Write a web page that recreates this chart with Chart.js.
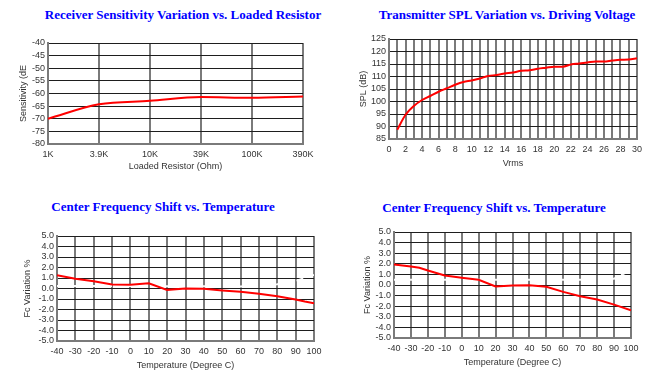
<!DOCTYPE html>
<html>
<head>
<meta charset="utf-8">
<script src="https://cdn.jsdelivr.net/npm/chart.js@4/dist/chart.umd.min.js"></script>
<style>
  body { margin: 0; background: #fff; width: 656px; height: 378px; position: relative; overflow: hidden; }
  .box { position: absolute; }
  .ttl { position: absolute; font: bold 13px "Liberation Serif", "Times New Roman", serif; color: #0000ff; white-space: nowrap; transform: translate(-50%, -50%); }
</style>
</head>
<body>
<div class="ttl" style="left:183px;top:15px">Receiver Sensitivity Variation vs. Loaded Resistor</div>
<div class="ttl" style="left:507px;top:15px">Transmitter SPL Variation vs. Driving Voltage</div>
<div class="ttl" style="left:163px;top:207px">Center Frequency Shift vs. Temperature</div>
<div class="ttl" style="left:494px;top:208px">Center Frequency Shift vs. Temperature</div>

<div class="box" style="left:0;top:30px;width:328px;height:150px"><canvas id="c1"></canvas></div>
<div class="box" style="left:330px;top:25px;width:326px;height:155px"><canvas id="c2"></canvas></div>
<div class="box" style="left:0;top:220px;width:328px;height:158px"><canvas id="c3"></canvas></div>
<div class="box" style="left:330px;top:220px;width:326px;height:158px"><canvas id="c4"></canvas></div>

<script>
// receiver sensitivity (dB) vs loaded resistor
const resistorLabels = ["1K", "3.9K", "10K", "39K", "100K", "390K"]
const sensitivity = [-70, -64.3, -62.9, -61.4, -61.7, -61.2]

// transmitter SPL (dB) vs Vrms
const vrms = [1, 2, 3, 4, 5, 6, 7, 8, 9, 10, 11, 12, 13, 14, 15, 16, 17, 18, 19, 20, 21, 22, 23, 24, 25, 26, 27, 28, 29, 30]
const spl = [88.7, 94.7, 98.2, 100.6, 102.2, 103.9, 105.3, 106.7, 107.8, 108.4, 109.2, 110.2, 110.6, 111.2, 111.6, 112.3, 112.5, 113.1, 113.5, 113.9, 113.9, 114.8, 115.2, 115.6, 116, 116, 116.4, 116.7, 116.8, 117.3]

// center frequency shift (%) vs temperature, left chart
const tempA = [-40, -30, -20, -10, 0, 10, 20, 30, 40, 50, 60, 70, 80, 90, 95, 100]
const shiftA = [1.27, 0.92, 0.7, 0.38, 0.35, 0.5, -0.13, 0, -0.03, -0.19, -0.32, -0.5, -0.73, -1.05, -1.24, -1.4]
const ghostTempA = [-40, 60, 80, 90, 100]
const ghostA = [0.25, 0.2, 0.4, 0.7, 1.3]

// center frequency shift (%) vs temperature, right chart
const tempB = [-40, -30, -25, -20, -10, 0, 10, 20, 30, 40, 50, 60, 70, 80, 90, 100]
const shiftB = [1.94, 1.75, 1.62, 1.37, 0.9, 0.68, 0.49, -0.14, -0.05, -0.02, -0.17, -0.65, -1.06, -1.37, -1.85, -2.38]
const ghostTempB = [-40, 70, 90, 100]
const ghostB = [0.5, 0.5, 0.6, 1.4]

const tickFont = { family: "Liberation Sans", size: 9 }
const txt = "#333"

function pts(xs, ys) {
  return xs.map((x, i) => ({ x: x, y: ys[i] }))
}

function xGrid() {
  return { color: "#7a7a7a", lineWidth: 2, drawTicks: false }
}
function yGrid() {
  return { color: "#1e1e1e", lineWidth: 1, drawTicks: false }
}

function makeChart(id, cfg) {
  return new Chart(document.getElementById(id), {
    type: "line",
    data: { labels: cfg.labels, datasets: cfg.datasets },
    options: {
      responsive: true,
      maintainAspectRatio: false,
      animation: false,
      layout: { padding: cfg.padding },
      plugins: { legend: { display: false }, tooltip: { enabled: false } },
      elements: { point: { radius: 0 } },
      scales: {
        x: Object.assign({
          grid: xGrid(),
          border: { color: "#7a7a7a", width: 2 },
          title: { display: true, text: cfg.xTitle, font: tickFont, color: txt, padding: { top: 4, bottom: 4 } },
          afterFit: s => { s.height = cfg.xh },
        }, cfg.x),
        y: Object.assign({
          grid: yGrid(),
          border: { color: "#7a7a7a", width: 2 },
          title: { display: true, text: cfg.yTitle, font: tickFont, color: txt, padding: { top: 4, bottom: 4 } },
          afterFit: s => { s.width = cfg.yw },
        }, cfg.y),
      },
    },
  })
}

const redLine = { borderColor: "#ff0000", borderWidth: 2, fill: false }
const ghostLine = { borderColor: "rgba(255,255,255,0.95)", borderWidth: 2, borderDash: [7, 5], fill: false }

makeChart("c1", {
  labels: resistorLabels,
  datasets: [Object.assign({ data: sensitivity, cubicInterpolationMode: "monotone" }, redLine)],
  padding: { left: 14, top: 13, right: 25, bottom: 4 },
  yw: 34, xh: 32,
  xTitle: "Loaded Resistor (Ohm)",
  yTitle: "Sensitivity (dE",
  x: { type: "category", offset: false, ticks: { autoSkip: false, font: tickFont, color: txt, padding: 5, maxRotation: 0 } },
  y: { min: -80, max: -40, ticks: { stepSize: 5, autoSkip: false, font: tickFont, color: txt, padding: 3 } },
})

makeChart("c2", {
  datasets: [Object.assign({ data: pts(vrms, spl), cubicInterpolationMode: "monotone" }, redLine)],
  padding: { left: 24, top: 14, right: 19, bottom: 7 },
  yw: 35, xh: 34,
  xTitle: "Vrms",
  yTitle: "SPL (dB)",
  x: { type: "linear", min: 0, max: 30, ticks: { stepSize: 1, autoSkip: false, maxRotation: 0, font: tickFont, color: txt, padding: 5, callback: v => (v % 2 === 0 ? v : "") } },
  y: { min: 85, max: 125, ticks: { stepSize: 5, autoSkip: false, font: tickFont, color: txt, padding: 3 } },
})

const tempX = { type: "linear", min: -40, max: 100, ticks: { stepSize: 10, autoSkip: false, maxRotation: 0, font: tickFont, color: txt, padding: 5 } }
const shiftY = { min: -5, max: 5, ticks: { stepSize: 1, autoSkip: false, font: tickFont, color: txt, padding: 3, callback: v => v.toFixed(1) } }

makeChart("c3", {
  datasets: [
    Object.assign({ data: pts(tempA, shiftA) }, redLine),
    Object.assign({ data: pts(ghostTempA, ghostA), order: 1 }, ghostLine),
  ],
  padding: { left: 18, top: 16, right: 14, bottom: 3 },
  yw: 39, xh: 34,
  xTitle: "Temperature (Degree C)",
  yTitle: "Fc Variation %",
  x: tempX,
  y: shiftY,
})

makeChart("c4", {
  datasets: [
    Object.assign({ data: pts(tempB, shiftB) }, redLine),
    Object.assign({ data: pts(ghostTempB, ghostB), order: 1 }, ghostLine),
  ],
  padding: { left: 28, top: 12, right: 25, bottom: 6 },
  yw: 36, xh: 34,
  xTitle: "Temperature (Degree C)",
  yTitle: "Fc Variation %",
  x: tempX,
  y: shiftY,
})
</script>
</body>
</html>
